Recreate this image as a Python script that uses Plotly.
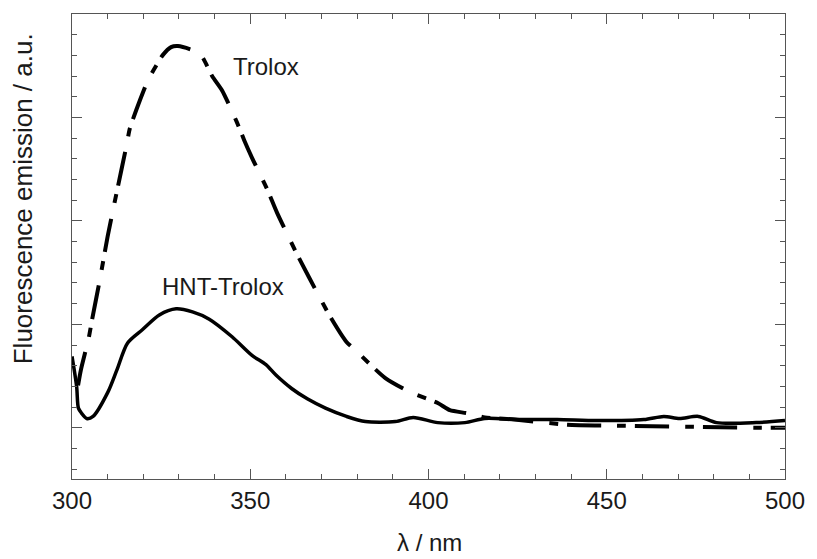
import plotly.graph_objects as go

# Trolox (dashed)
trolox_x = [301.7, 302.5, 304.7, 305.6, 307.8, 310.0, 312.5, 315.3, 316.2, 318.0, 321.3, 323.6,
            325.4, 327.8, 329.7, 333.8, 336.6, 339.3, 342.1, 346.3, 348.3, 350.5, 354.7, 357.5,
            362.8, 366.4, 372.5, 377.0, 379.5, 387.9, 395.1, 402.6, 406.0, 411.0, 415.8, 424.1,
            438.9, 452.9, 472.4, 491.9, 500.0]
trolox_y = [0.41, 0.56, 0.87, 1.04, 1.43, 1.85, 2.27, 2.73, 2.89, 3.07, 3.36, 3.50,
            3.60, 3.68, 3.69, 3.65, 3.58, 3.40, 3.26, 2.95, 2.78, 2.61, 2.31, 2.08,
            1.70, 1.46, 1.07, 0.83, 0.75, 0.48, 0.34, 0.24, 0.17, 0.14, 0.10, 0.08,
            0.03, 0.02, 0.01, 0.00, 0.00]

# HNT-Trolox (solid)
hnt_x = [300.0, 301.3, 301.8, 302.7, 304.1, 305.9, 310.0, 312.6, 315.6, 319.8, 324.5, 329.2,
         333.8, 338.5, 344.9, 350.5, 354.4, 357.2, 361.6, 366.0, 371.1,
         377.0, 382.3, 390.7, 395.7, 402.6, 410.2, 415.8, 425.0, 436.1, 447.3, 460.4, 466.0,
         470.4, 475.7, 480.8, 491.9, 500.0]
hnt_y = [0.69, 0.40, 0.19, 0.14, 0.09, 0.11, 0.34, 0.56, 0.82, 0.95, 1.09, 1.15,
         1.12, 1.05, 0.88, 0.70, 0.61, 0.51, 0.38, 0.28, 0.19,
         0.11, 0.06, 0.06, 0.10, 0.05, 0.05, 0.09, 0.08, 0.08, 0.07, 0.08, 0.11,
         0.09, 0.11, 0.05, 0.05, 0.07]

x_ticks = [300, 350, 400, 450, 500]

FONT = "Liberation Sans, Arial, sans-serif"
TXT = "#1a1a1a"

fig = go.Figure()
fig.add_trace(go.Scatter(x=trolox_x, y=trolox_y, mode="lines",
                         line=dict(color="black", width=4, dash="34px,16px,9px,9px", shape="spline", smoothing=0.6),
                         showlegend=False))
fig.add_trace(go.Scatter(x=hnt_x, y=hnt_y, mode="lines",
                         line=dict(color="black", width=3.5, shape="spline", smoothing=0.8),
                         showlegend=False))

fig.add_annotation(x=300 + (267 - 72) / 3.585, y=(428 - 66) / 103.7, text="Trolox", showarrow=False,
                   xanchor="center", yanchor="middle",
                   font=dict(family=FONT, size=24, color=TXT))
fig.add_annotation(x=300 + (224 - 72) / 3.585, y=(428 - 286) / 103.7, text="HNT-Trolox", showarrow=False,
                   xanchor="center", yanchor="middle",
                   font=dict(family=FONT, size=24, color=TXT))
fig.add_annotation(xref="paper", yref="paper", x=(23 - 72) / 717, y=(479 - 199) / 465,
                   text="Fluorescence emission / a.u.", textangle=-90, showarrow=False,
                   xanchor="center", yanchor="middle",
                   font=dict(family=FONT, size=26, color=TXT))
fig.add_annotation(xref="paper", yref="paper", x=(432 - 72) / 717, y=(479 - 542) / 465,
                   text="λ / nm", showarrow=False, xanchor="center", yanchor="middle",
                   font=dict(family=FONT, size=24, color=TXT))

fig.update_layout(
    width=817, height=559,
    margin=dict(l=72, r=28, t=14, b=80),
    paper_bgcolor="white", plot_bgcolor="white",
    font=dict(family=FONT, size=24, color=TXT),
    xaxis=dict(range=[300, 500], tickvals=x_ticks, ticktext=[str(v) for v in x_ticks],
               ticks="inside", ticklen=10, tickcolor="#555", tickwidth=1,
               showline=True, linecolor="#555", linewidth=1, mirror="ticks",
               showgrid=False, zeroline=False,
               minor=dict(ticks="inside", ticklen=5, dtick=10, tickcolor="#555", showgrid=False),
               tickfont=dict(family=FONT, size=24, color=TXT)),
    yaxis=dict(range=[-0.495, 4.0], tick0=0, dtick=1, showticklabels=False,
               ticks="inside", ticklen=10, tickcolor="#555", tickwidth=1,
               showline=True, linecolor="#555", linewidth=1, mirror="ticks",
               showgrid=False, zeroline=False,
               minor=dict(ticks="inside", ticklen=5, dtick=0.2, tickcolor="#555", showgrid=False)),
)

fig.write_html("out.html")
